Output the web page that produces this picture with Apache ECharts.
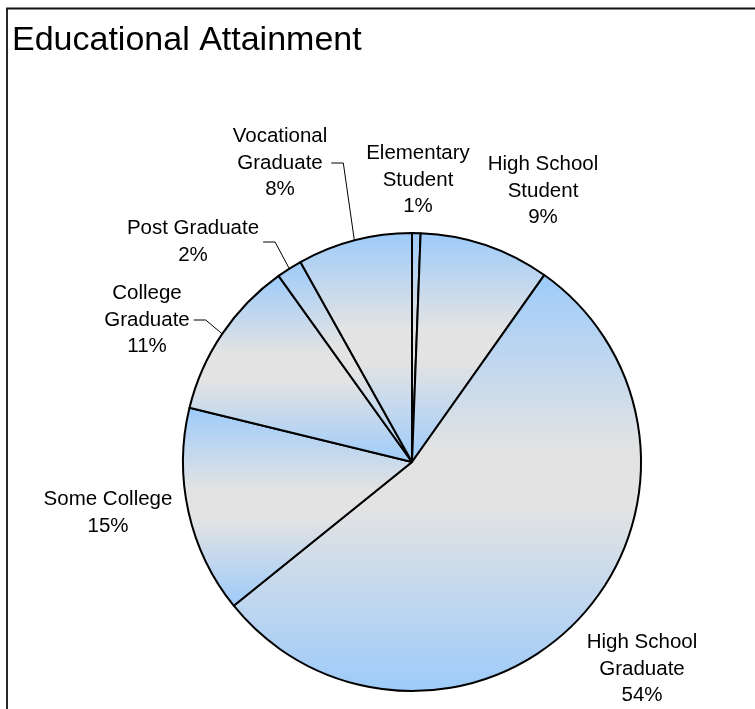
<!DOCTYPE html>
<html>
<head>
<meta charset="utf-8">
<script src="https://cdn.jsdelivr.net/npm/echarts@6/dist/echarts.min.js"></script>
<style>
  html, body { margin: 0; padding: 0; background: #fff; }
  #chart { width: 755px; height: 709px; }
</style>
</head>
<body>
<div id="chart"></div>
<script>
// slices, clockwise from 12 o'clock
const categories = [
  'Elementary\nStudent',
  'High School\nStudent',
  'High School\nGraduate',
  'Some College',
  'College\nGraduate',
  'Post Graduate',
  'Vocational\nGraduate',
]
const shares = [0.6, 9.2, 54.4, 14.6, 11.3, 1.8, 8.1]
const hasLeader = [false, false, false, false, true, true, true]

// centre of each label block (px), Excel put them by hand
const labelSpots = [[418, 180], [543, 191], [642, 669], [108, 513], [147, 320], [193, 242], [280, 163]]

const FONT = '"Liberation Sans", Arial, sans-serif'
const fill = new echarts.graphic.LinearGradient(0, 0, 0, 1, [
  { offset: 0, color: '#9dcbfa' },
  { offset: 0.42, color: '#e3e3e3' },
  { offset: 0.56, color: '#e3e3e3' },
  { offset: 1, color: '#9dcbfa' },
])

const chart = echarts.init(document.getElementById('chart'))

chart.setOption({
  animation: false,
  title: {
    text: 'Educational Attainment',
    left: 7,
    top: 19,
    textStyle: { fontFamily: FONT, fontSize: 34, fontWeight: 'normal', color: '#000' },
  },
  graphic: [{
    type: 'rect',
    shape: { x: 7, y: 8.5, width: 800, height: 800 },
    style: { fill: 'none', stroke: '#111', lineWidth: 1.8 },
  }],
  series: [{
    type: 'pie',
    center: [412, 462],
    radius: 229,
    startAngle: 90,
    clockwise: true,
    avoidLabelOverlap: false,
    itemStyle: { color: fill, borderColor: '#000', borderWidth: 2 },
    emphasis: { disabled: true },
    label: {
      position: 'outside',
      fontFamily: FONT,
      fontSize: 20.5,
      lineHeight: 26.5,
      color: '#000',
      formatter: p => p.name + '\n' + Math.round(p.percent) + '%',
    },
    labelLine: { show: true, length: 4, length2: 4, lineStyle: { color: '#000', width: 1 } },
    labelLayout(p) {
      const [x, y] = labelSpots[p.dataIndex]
      const out = { x, y, align: 'center', verticalAlign: 'middle' }
      if (p.labelLinePoints) {
        // leader: from the arc at mid-angle, then a short flat run into the label's right side
        const edge = x + p.labelRect.width / 2 + 4
        out.labelLinePoints = [p.labelLinePoints[0], [edge + 12, y], [edge, y]]
      }
      return out
    },
    data: categories.map((name, i) => ({
      name,
      value: shares[i],
      labelLine: { show: hasLeader[i] },
    })),
  }],
})
</script>
</body>
</html>
